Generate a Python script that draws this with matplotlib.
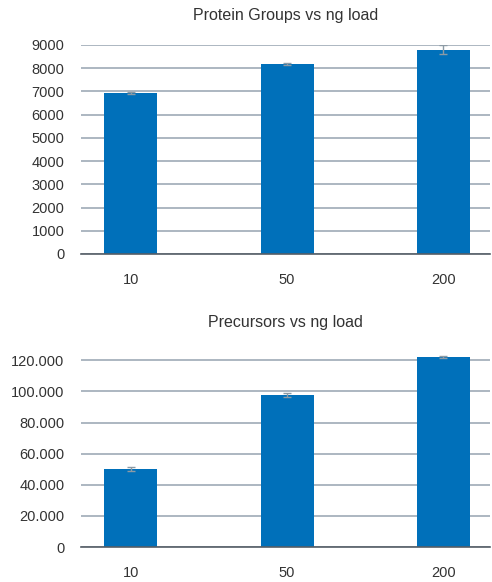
import matplotlib.pyplot as plt
from matplotlib.ticker import FuncFormatter

plt.rcParams['font.family'] = ['Liberation Sans', 'DejaVu Sans']

loads = ["10", "50", "200"]
protein_groups = [6930, 8190, 8790]
protein_err = [40, 50, 190]
precursors = [50200, 97600, 122300]
precursors_err = [1200, 1300, 700]

bar_color = "#0070ba"
grid_color = "#9eaab6"
text_color = "#333333"


def style_axis(ax, title, pad):
    ax.set_title(title, fontsize=11.5, color=text_color, pad=pad)
    for s in ["left", "right", "top"]:
        ax.spines[s].set_visible(False)
    ax.spines["bottom"].set_color("#555d66")
    ax.spines["bottom"].set_linewidth(1.2)
    ax.yaxis.grid(True, color=grid_color, linewidth=1.2)
    ax.set_axisbelow(True)
    ax.tick_params(axis="both", length=0, labelsize=10.5, colors=text_color)
    ax.tick_params(axis="y", pad=12)
    ax.tick_params(axis="x", pad=14)
    ax.set_xlim(-0.32, 2.30)


fig = plt.figure(figsize=(4.92, 5.82), dpi=100)

ax1 = fig.add_axes([0.1646, 0.5636, 0.8314, 0.3591])
x = range(len(loads))
ax1.bar(x, protein_groups, width=0.34, color=bar_color, zorder=2)
ax1.errorbar(x, protein_groups, yerr=protein_err, fmt="none", ecolor="#8c9aa5",
             elinewidth=1, capsize=3, zorder=3)
ax1.set_ylim(0, 9000)
ax1.set_yticks(range(0, 9001, 1000))
ax1.set_xticks(list(x))
ax1.set_xticklabels(loads)
style_axis(ax1, "Protein Groups vs ng load", 18)

ax2 = fig.add_axes([0.1646, 0.0601, 0.8314, 0.3368])
ax2.bar(x, precursors, width=0.34, color=bar_color, zorder=2)
ax2.errorbar(x, precursors, yerr=precursors_err, fmt="none", ecolor="#8c9aa5",
             elinewidth=1, capsize=3, zorder=3)
ax2.set_ylim(0, 126000)
ax2.set_yticks(range(0, 120001, 20000))
ax2.yaxis.set_major_formatter(FuncFormatter(lambda v, p: f"{int(v):,}".replace(",", ".")))
ax2.set_xticks(list(x))
ax2.set_xticklabels(loads)
style_axis(ax2, "Precursors vs ng load", 17)

fig.savefig("out.png", dpi=100)
